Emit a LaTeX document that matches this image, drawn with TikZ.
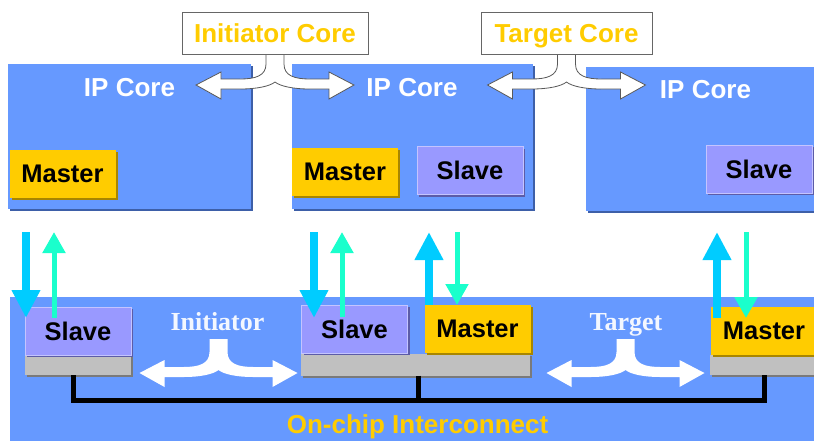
\documentclass[tikz,border=0pt]{standalone}
\usepackage{fontspec}
\setmainfont{Liberation Sans}
\newfontfamily\timesfont{Liberation Serif}
\usepackage{xcolor}
\usetikzlibrary{arrows.meta, shadows, calc}

\definecolor{ipblue}{HTML}{6699FF}
\definecolor{coreshadow}{HTML}{3D5FA8}
\definecolor{masteryellow}{HTML}{FFCC00}
\definecolor{mastershadow}{HTML}{A88600}
\definecolor{slaveviolet}{HTML}{9999FF}
\definecolor{slaveedge}{HTML}{C4C4FF}
\definecolor{slaveshadow}{HTML}{5C5CA8}
\definecolor{socketgray}{HTML}{C0C0C0}
\definecolor{socketshadow}{HTML}{7A7A7A}
\definecolor{flowcyan}{HTML}{00CCFF}
\definecolor{flowteal}{HTML}{1AFFCC}
\definecolor{tagyellow}{HTML}{FFCC00}

\begin{document}
\begin{tikzpicture}[x=1pt, y=1pt,
    core/.style={rectangle, fill=ipblue, inner sep=0pt, drop shadow={shadow xshift=2pt, shadow yshift=-2pt, fill=coreshadow, opacity=1}},
    master/.style={rectangle, fill=masteryellow, inner sep=0pt, minimum width=106pt, minimum height=48pt, font=\fontsize{25.5}{30}\selectfont\bfseries, drop shadow={shadow xshift=2pt, shadow yshift=-2pt, fill=mastershadow, opacity=1}},
    slave/.style={rectangle, fill=slaveviolet, draw=slaveedge, line width=0.8pt, inner sep=0pt, minimum width=106pt, minimum height=48pt, font=\fontsize{25.5}{30}\selectfont\bfseries, drop shadow={shadow xshift=2pt, shadow yshift=-2pt, fill=slaveshadow, opacity=1}},
    socket/.style={rectangle, fill=socketgray, inner sep=0pt, drop shadow={shadow xshift=2pt, shadow yshift=-2pt, fill=socketshadow, opacity=1}},
    corename/.style={text=white, font=\fontsize{26}{30}\selectfont\bfseries, anchor=base},
    tag/.style={rectangle, draw=gray!80!black, fill=white, line width=0.8pt, inner sep=0pt, minimum height=42pt, text=tagyellow, text height=18.6pt, text depth=0pt, font=\fontsize{26}{30}\selectfont\bfseries},
    role/.style={text=white!92!ipblue, font=\timesfont\bfseries\fontsize{26}{30}\selectfont, anchor=base},
    reqflow/.style={draw=flowcyan, line width=8pt, -{Triangle[width=27pt, length=28pt]}},
    ackflow/.style={draw=flowteal, line width=5pt, -{Triangle[width=22pt, length=21pt]}},
    bus/.style={draw=black, line width=5pt},
    pics/splitarrow/.style={code={
        \path[pic actions] (-9,0) -- (-9,-13) .. controls (-9,-25) and (-20,-28) .. (-35,-28) -- (-54,-28) -- (-54,-21) -- (-79,-34) -- (-54,-48) -- (-54,-38) -- (-35,-38) .. controls (-17,-38) and (-5,-35) .. (0,-31) .. controls (5,-35) and (17,-38) .. (35,-38) -- (54,-38) -- (54,-48) -- (79,-34) -- (54,-21) -- (54,-28) -- (35,-28) .. controls (20,-28) and (9,-25) .. (9,-13) -- (9,0) -- cycle;
    }}
]
\useasboundingbox (0,0) rectangle (814,-440);

% Interconnect area
\fill[ipblue] (10,-297) rectangle (830,-450);

% IP cores
\node[core, minimum width=243pt, minimum height=145pt] (core1) at (129.5,-136.5) {};
\node[core, minimum width=241pt, minimum height=145pt] (core2) at (412.5,-136.5) {};
\node[core, minimum width=234pt, minimum height=144pt] (core3) at (703,-139) {};

\node[corename] (name1) at (129.5,-96) {IP Core};
\node[corename] (name2) at (412,-96) {IP Core};
\node[corename] (name3) at (705.5,-98) {IP Core};

\node[master] (m1) at (62.5,-173.5) {Master};
\node[master] (m2) at (345,-172) {Master};
\node[slave] (s2) at (470,-170.5) {Slave};
\node[slave] (s3) at (759,-169) {Slave};

% Network interfaces
\node[socket, minimum width=106pt, minimum height=20pt] (base1) at (78,-365) {};
\node[socket, minimum width=229pt, minimum height=22pt] (base2) at (415.5,-364.5) {};
\node[socket, minimum width=108pt, minimum height=20pt] (base3) at (764,-365) {};

\node[slave] (ni1) at (78,-331) {Slave};
\node[slave] (ni2) at (354.5,-329) {Slave};
\node[master] (ni3) at (477.5,-329) {Master};
\node[master] (ni4) at (764,-331) {Master};

% Bus
\draw[bus] ([xshift=-5pt]base1.south) -- ++(0,-25) -| (base3.south);
\draw[bus] ([xshift=3pt]base2.south) -- ++(0,-25);

\node[text=tagyellow, font=\fontsize{26}{30}\selectfont\bfseries, anchor=base] (noc) at (417.5,-433) {On-chip Interconnect};

% Flow ends
\coordinate (f1a) at (26,-232);  \coordinate (f1b) at (26,-318);
\coordinate (f2a) at (54,-318);  \coordinate (f2b) at (54,-232);
\coordinate (f3a) at (314,-232); \coordinate (f3b) at (314,-318);
\coordinate (f4a) at (342,-317); \coordinate (f4b) at (342,-232);
\coordinate (f5a) at (429,-305); \coordinate (f5b) at (429,-232);
\coordinate (f6a) at (457,-232); \coordinate (f6b) at (457,-305);
\coordinate (f7a) at (717,-318); \coordinate (f7b) at (717,-232);
\coordinate (f8a) at (746,-232); \coordinate (f8b) at (746,-318);

\draw[reqflow] (f1a) -- (f1b);
\draw[ackflow] (f2a) -- (f2b);
\draw[reqflow] (f3a) -- (f3b);
\draw[ackflow] (f4a) -- (f4b);
\draw[reqflow] (f5a) -- (f5b);
\draw[ackflow] (f6a) -- (f6b);
\draw[reqflow] (f7a) -- (f7b);
\draw[ackflow] (f8a) -- (f8b);

% Split arrows
\pic[fill=white, draw=gray!70!black, line width=0.8pt] (initsplit) at (275,-51) {splitarrow};
\pic[fill=white, draw=gray!70!black, line width=0.8pt] (targsplit) at (566.5,-51) {splitarrow};
\pic[fill=white] (nisplit1) at (218.5,-339) {splitarrow};
\pic[fill=white] (nisplit2) at (625.5,-339) {splitarrow};

\node[role] (initrole) at (217.5,-330) {Initiator};
\node[role] (targrole) at (626,-330) {Target};

% Core tags
\node[tag, minimum width=186pt] (inittag) at (275,-33) {Initiator Core};
\node[tag, minimum width=171pt] (targtag) at (566.5,-33) {Target Core};

\end{tikzpicture}
\end{document}
